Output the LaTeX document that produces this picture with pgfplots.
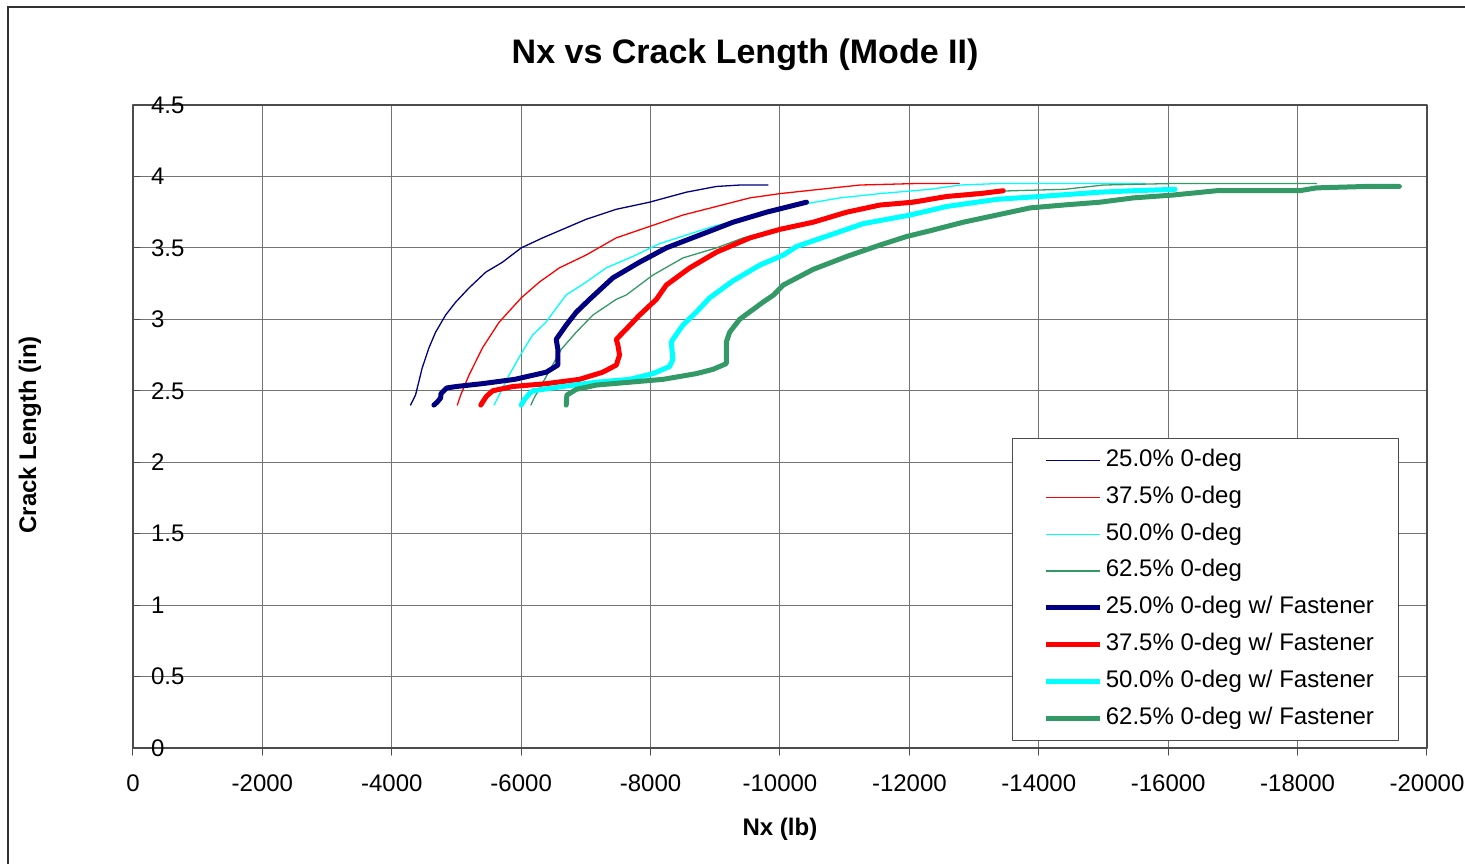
\documentclass[border=0pt]{standalone}
\usepackage{pgfplots}
\pgfplotsset{compat=1.18}
\usepackage{fontspec}
\setmainfont{Liberation Sans}
\definecolor{navy}{HTML}{000080}
\definecolor{sgreen}{HTML}{339966}
\definecolor{cyn}{HTML}{00FFFF}
\definecolor{rd}{HTML}{FF0000}
\begin{document}
\begin{tikzpicture}
\begin{axis}[
  scale only axis, width=647pt, height=321.5pt,
  x dir=reverse, xmin=-20000, xmax=0, ymin=0, ymax=4.5,
  xtick={-20000,-18000,-16000,-14000,-12000,-10000,-8000,-6000,-4000,-2000,0},
  ytick={0,0.5,1,1.5,2,2.5,3,3.5,4,4.5},
  scaled x ticks=false, scaled y ticks=false,
  tick pos=left, tick align=outside, major tick length=3.5pt,
  tick style={black!70, line width=0.5pt},
  y tick style={xshift=3.5pt},
  grid=major, major grid style={black!55, line width=0.5pt},
  axis line style={black!70, line width=0.6pt},
  /pgf/number format/assume math mode=true,
  /pgf/number format/1000 sep={},
  tick label style={font=\fontsize{12pt}{14pt}\selectfont},
  xticklabel style={yshift=-6.5pt},
  yticklabel style={anchor=west, xshift=9pt},
  title={\textbf{Nx vs Crack Length (Mode II)}},
  title style={at={(axis description cs:0.473,1.0466)}, anchor=base, font=\fontsize{17pt}{20pt}\selectfont},
  xlabel={\textbf{Nx (lb)}},
  xlabel style={at={(axis description cs:0.5,-0.1353)}, anchor=base, font=\fontsize{12pt}{14pt}\selectfont},
  ylabel={\textbf{Crack Length (in)}},
  ylabel style={at={(axis description cs:-0.0796,0.487)}, anchor=center, font=\fontsize{12pt}{14pt}\selectfont},
  legend cell align=left,
  legend image code/.code={\path (0pt,0pt); \draw[#1] (3.5pt,0pt) -- (30.5pt,0pt);},
  legend style={at={(axis description cs:0.978,0.482)}, anchor=north east,
    font=\fontsize{12pt}{14pt}\selectfont, draw=black!70, line width=0.5pt,
    inner xsep=12pt, inner ysep=5pt, row sep=6.4pt, column sep=1.5pt,
    nodes={inner sep=0pt, text height=9pt, text depth=3pt}},
  line join=round, line cap=round,
]
% 25.0% 0-deg
\addplot[navy, line width=0.65pt] coordinates {
(-4290,2.40) (-4367,2.47) (-4470,2.66) (-4574,2.80) (-4677,2.91) (-4832,3.03)
(-4987,3.12) (-5194,3.22) (-5452,3.33) (-5711,3.40) (-6000,3.50) (-6331,3.57)
(-6693,3.64) (-7003,3.70) (-7468,3.77) (-7984,3.82) (-8553,3.89) (-9018,3.93)
(-9380,3.94) (-9815,3.94)};
\addlegendentry{25.0\% 0-deg}
% 37.5% 0-deg
\addplot[rd, line width=0.65pt] coordinates {
(-5013,2.40) (-5065,2.47) (-5194,2.61) (-5401,2.80) (-5659,2.98) (-6000,3.15)
(-6279,3.26) (-6589,3.36) (-7003,3.45) (-7468,3.57) (-7984,3.65) (-8501,3.73)
(-9018,3.79) (-9535,3.85) (-10000,3.88) (-10619,3.91) (-11237,3.94) (-12062,3.95)
(-12770,3.95)};
\addlegendentry{37.5\% 0-deg}
% 50.0% 0-deg
\addplot[cyn, line width=0.65pt] coordinates {
(-5581,2.40) (-5659,2.47) (-5814,2.61) (-6000,2.76) (-6176,2.89) (-6382,2.98)
(-6693,3.17) (-7003,3.26) (-7313,3.36) (-7726,3.44) (-8140,3.53) (-8553,3.59)
(-8966,3.65) (-9483,3.71) (-10000,3.77) (-10412,3.81) (-10928,3.85) (-11546,3.88)
(-12320,3.91) (-12784,3.94) (-13351,3.95) (-15640,3.95)};
\addlegendentry{50.0\% 0-deg}
% 62.5% 0-deg
\addplot[sgreen, line width=0.65pt] coordinates {
(-6150,2.40) (-6200,2.45) (-6387,2.60) (-6619,2.79) (-6851,2.91) (-7108,3.03)
(-7469,3.14) (-7623,3.17) (-8036,3.31) (-8501,3.43) (-9018,3.50) (-9432,3.57)
(-9793,3.61) (-10310,3.66) (-10515,3.69) (-11000,3.75) (-12000,3.83) (-13000,3.89)
(-13600,3.90) (-14400,3.91) (-15000,3.94) (-16000,3.95) (-17000,3.95) (-18290,3.95)};
\addlegendentry{62.5\% 0-deg}
% 25.0% w/ Fastener
\addplot[navy, line width=2.5pt] coordinates {
(-4651,2.40) (-4700,2.42) (-4755,2.45) (-4760,2.48) (-4850,2.52) (-5000,2.53)
(-5400,2.55) (-5900,2.58) (-6387,2.63) (-6567,2.68) (-6567,2.79) (-6541,2.86)
(-6696,2.96) (-6851,3.05) (-7057,3.14) (-7416,3.29) (-7829,3.40) (-8243,3.50)
(-8760,3.59) (-9276,3.68) (-9793,3.75) (-10410,3.82)};
\addlegendentry{25.0\% 0-deg w/ Fastener}
% 37.5% w/ Fastener
\addplot[rd, line width=2.5pt] coordinates {
(-5375,2.40) (-5460,2.46) (-5560,2.50) (-5870,2.53) (-6390,2.55) (-6900,2.58)
(-7260,2.63) (-7470,2.68) (-7520,2.75) (-7495,2.82) (-7470,2.86) (-7620,2.93)
(-7830,3.03) (-8090,3.14) (-8243,3.24) (-8605,3.36) (-9018,3.47) (-9535,3.57)
(-10000,3.63) (-10515,3.68) (-11031,3.75) (-11546,3.80) (-12062,3.82) (-12577,3.86)
(-13093,3.88) (-13450,3.90)};
\addlegendentry{37.5\% 0-deg w/ Fastener}
% 50.0% w/ Fastener
\addplot[cyn, line width=2.5pt] coordinates {
(-6000,2.40) (-6052,2.44) (-6129,2.48) (-6180,2.50) (-6644,2.53) (-7160,2.56)
(-7675,2.58) (-8036,2.62) (-8294,2.67) (-8345,2.72) (-8320,2.84) (-8345,2.86)
(-8500,2.96) (-8706,3.05) (-8912,3.15) (-9276,3.27) (-9690,3.38) (-10052,3.45)
(-10258,3.51) (-10773,3.59) (-11289,3.67) (-12010,3.73) (-12577,3.79) (-13351,3.84)
(-14021,3.86) (-14948,3.89) (-15460,3.90) (-16105,3.91)};
\addlegendentry{50.0\% 0-deg w/ Fastener}
% 62.5% w/ Fastener
\addplot[sgreen, line width=2.5pt] coordinates {
(-6696,2.40) (-6706,2.47) (-6851,2.51) (-7160,2.54) (-7675,2.56) (-8191,2.58)
(-8706,2.62) (-8964,2.65) (-9170,2.69) (-9170,2.84) (-9222,2.91) (-9376,3.00)
(-9737,3.12) (-9900,3.17) (-10050,3.24) (-10515,3.35) (-11031,3.44) (-11546,3.52)
(-11959,3.58) (-12320,3.62) (-12835,3.68) (-13351,3.73) (-13866,3.78) (-14381,3.80)
(-14948,3.82) (-15460,3.85) (-16077,3.87) (-16745,3.90) (-18031,3.90) (-18288,3.92)
(-19059,3.93) (-19573,3.93)};
\addlegendentry{62.5\% 0-deg w/ Fastener}
\end{axis}
\draw[black!80, line width=0.6pt] (-62.5pt,-80pt) -- (-62.5pt,370.5pt) -- (700pt,370.5pt);
\pgfresetboundingbox
\path (-66.5pt,-57.5pt) rectangle (666pt,374pt);
\end{tikzpicture}
\end{document}
